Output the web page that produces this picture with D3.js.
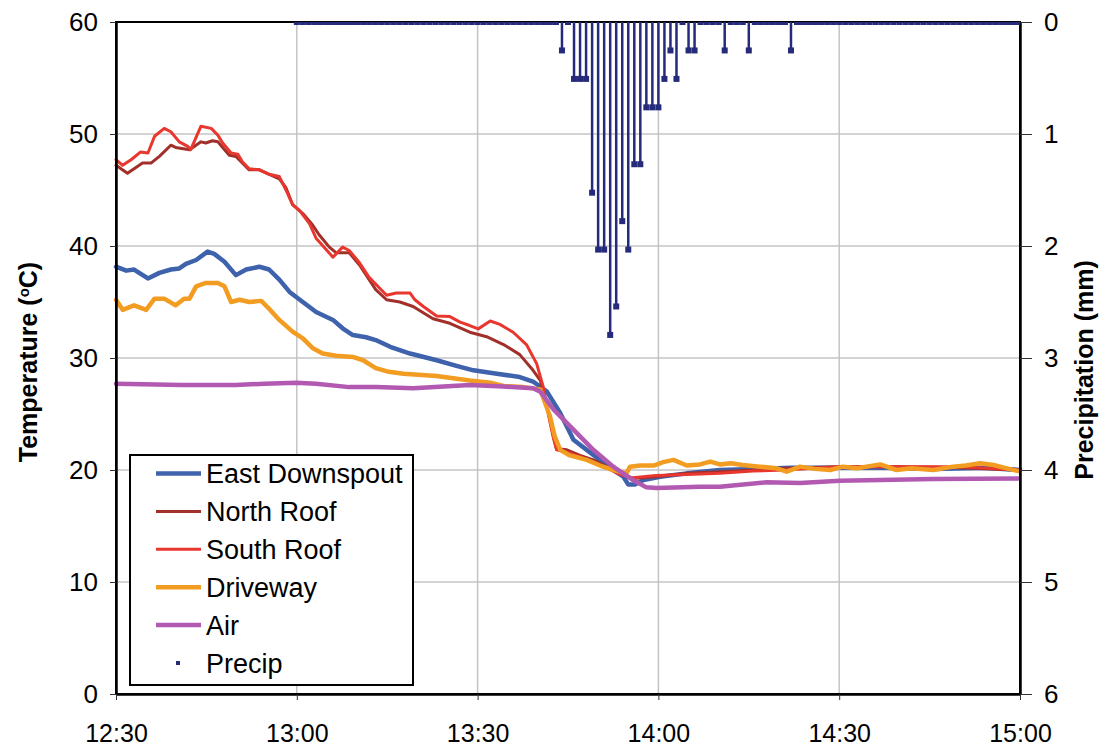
<!DOCTYPE html>
<html>
<head>
<meta charset="utf-8">
<script src="https://cdn.jsdelivr.net/npm/d3@7"></script>
<style>
  body { margin: 0; background: #fff; }
  svg { display: block; }
  text { font-family: "Liberation Sans", Arial, Helvetica, sans-serif; fill: #000; }
</style>
</head>
<body>
<svg id="chart" width="1102" height="749"></svg>
<script>
// ---- data -------------------------------------------------------------
// Temperature series: [minutes after 12:30, °C]
const eastDownspout = [
  [0,38.15],[1.7,37.8],[3,37.9],[5.3,37.1],[7.2,37.6],[9.1,37.9],[10.5,38.0],[11.6,38.4],
  [13.3,38.75],[15.2,39.5],[16.3,39.3],[18,38.6],[19.9,37.4],[21.6,37.9],[23.8,38.15],
  [25.4,37.9],[27.1,37.0],[28.8,35.9],[31,35.0],[33.2,34.1],[36,33.4],[37.6,32.65],
  [39.3,32.05],[41.5,31.85],[43.1,31.6],[45.5,31.0],[48.8,30.4],[53.2,29.8],[56.5,29.3],
  [59.3,28.9],[63.2,28.6],[67,28.3],[69.2,27.9],[71.5,27.0],[73.7,25.1],[75.9,22.7],
  [78.1,21.8],[80.3,20.9],[82.5,20.0],[84.2,19.4],[85,18.7],[86.1,18.7],[87.5,19.1],
  [90.3,19.4],[94.7,19.7],[100.2,20.0],[106,20.1],[112,20.2],[120,20.2],[128,20.2],
  [136,20.1],[144,20.2],[150,20.0]
];
const northRoof = [
  [0,47.2],[1.9,46.5],[3,46.9],[4.4,47.4],[5.8,47.4],[7.2,48.0],[9.1,49.0],[9.9,48.8],
  [12.2,48.6],[14.1,49.3],[14.9,49.2],[16,49.4],[16.9,49.3],[18.8,48.1],[19.9,48.0],
  [22.1,46.8],[23.8,46.8],[27.1,46.0],[28.2,45.2],[29.3,43.7],[31,42.9],[32.6,41.9],
  [33.7,41.0],[35.4,39.9],[36.5,39.4],[38.7,39.4],[40.4,38.3],[43.1,36.1],[44.9,35.2],
  [47.1,35.0],[49.3,34.6],[52.6,33.5],[55.4,33.1],[58.7,32.3],[61.5,31.9],[64.3,31.2],
  [67,30.3],[69.2,28.9],[70.4,28.0],[71.8,25.0],[72.6,23.0],[73.1,21.9],[74.8,21.8],
  [77,21.3],[79.2,20.9],[81.4,20.3],[83.6,19.7],[85.8,19.25],[89.6,19.4],[94.7,19.7],
  [100.2,19.85],[105.7,20.0],[111,20.15],[120,20.3],[130,20.3],[140,20.2],[150,20.0]
];
const southRoof = [
  [0,47.7],[1.1,47.2],[2.5,47.7],[4.1,48.4],[5.3,48.3],[6.4,49.8],[8,50.5],[9.1,50.2],
  [10.5,49.3],[11.9,48.9],[12.4,48.6],[14.1,50.7],[15.8,50.5],[16.9,49.9],[17.7,49.2],
  [19.1,48.3],[20.2,48.2],[21,47.5],[22.1,46.9],[23.8,46.8],[25.4,46.4],[27.1,46.2],
  [28.2,45.0],[29.3,43.7],[30.4,43.2],[32.1,42.0],[33.2,40.7],[36,39.0],[37.6,39.9],
  [38.7,39.6],[40.4,38.5],[42,37.2],[43.8,36.2],[44.9,35.6],[46.5,35.8],[48.8,35.8],
  [49.6,35.2],[51,34.6],[53.2,33.75],[55.4,33.7],[57.1,33.2],[58.7,32.9],[60.1,32.6],
  [62.1,33.3],[63.7,33.0],[65.9,32.3],[68.1,31.2],[69.8,29.5],[70.9,27.4],[71.8,24.8],
  [72.6,22.8],[73.1,21.8],[74.8,21.6],[77,21.2],[79.2,20.7],[81.4,20.2],[83.6,19.6],
  [85.8,19.3],[89.6,19.5],[94.7,19.6],[100.2,19.7],[105.7,19.9],[111,20.0],[120,20.3],
  [130,20.3],[140,20.3],[150,20.0]
];
const driveway = [
  [0,35.2],[1.1,34.3],[3,34.7],[5,34.3],[6.4,35.3],[8,35.3],[9.9,34.7],[11.3,35.3],
  [12.2,35.3],[13.3,36.4],[14.9,36.7],[16.9,36.7],[18,36.4],[19.1,35.0],[20.5,35.2],
  [22.1,35.0],[24.1,35.1],[25.4,34.4],[27.1,33.4],[29.3,32.35],[31,31.75],[32.6,30.9],
  [34.3,30.4],[36.5,30.2],[39.3,30.1],[41,29.8],[43.1,29.1],[45,28.8],[47.7,28.6],
  [53.2,28.4],[58.7,28.0],[62.1,27.8],[64.3,27.5],[67.6,27.4],[70.4,27.2],[71.2,26.0],
  [72,24.8],[72.8,23.0],[73.7,21.8],[75.3,21.3],[78.1,20.9],[80.3,20.4],[82.5,20.0],
  [84.7,19.7],[85.3,20.3],[87,20.4],[89.2,20.4],[90.8,20.7],[92.5,20.9],[94.7,20.4],
  [96.9,20.5],[98.6,20.75],[100.2,20.5],[102,20.6],[104,20.45],[106.8,20.3],[109.6,20.15],
  [111.3,19.85],[113.5,20.3],[116,20.1],[118.5,20.0],[120.6,20.3],[123,20.15],[126.8,20.5],
  [129.5,20.0],[132,20.15],[135.6,20.0],[138.9,20.3],[141,20.4],[143.4,20.6],[145.6,20.45],
  [147.8,20.15],[149.7,19.9]
];
const air = [
  [0,27.7],[11,27.6],[19.9,27.6],[24.6,27.7],[29.9,27.8],[33.2,27.7],[38.7,27.4],
  [43.1,27.4],[49.3,27.3],[58.7,27.6],[64.3,27.45],[69.2,27.3],[70.4,27.0],[72.6,25.4],
  [75.9,23.6],[79.2,21.8],[82.5,20.3],[85.8,19.1],[88,18.45],[89.7,18.4],[96.9,18.5],
  [100.2,18.5],[108,18.9],[113.5,18.85],[120.1,19.05],[135.6,19.2],[149.7,19.25]
];

// Precipitation (mm) per minute, 13:00 through 15:00
const precipStart = "13:00";
const precipValues = [
  0,0,0,0,0,0,0,0,0,0,
  0,0,0,0,0,0,0,0,0,0,
  0,0,0,0,0,0,0,0,0,0,
  0,0,0,0,0,0,0,0,0,0,
  0,0,0,0,0.254,0,0.508,0.508,0.508,1.524,
  2.032,2.032,2.794,2.54,1.778,2.032,1.27,1.27,0.762,0.762,
  0.762,0.508,0.254,0.508,0,0.254,0.254,0,0,0,
  0,0.254,0,0,0,0.254,0,0,0,0,
  0,0,0.254,0,0,0,0,0,0,0,
  0,0,0,0,0,0,0,0,0,0,
  0,0,0,0,0,0,0,0,0,0,
  0,0,0,0,0,0,0,0,0,0,
  0
];

const seriesNames = ["East Downspout", "North Roof", "South Roof", "Driveway", "Air"];
const seriesColors = ["#3f62ad", "#a2302a", "#e8372e", "#f29c22", "#b259b2"];
const seriesWidths = [4.5, 3, 3, 4.5, 4.5];
const seriesData = [eastDownspout, northRoof, southRoof, driveway, air];
const precipName = "Precip";
const precipColor = "#262a7a";

const timeTicks = ["12:30", "13:00", "13:30", "14:00", "14:30", "15:00"];
const tempTicks = [0, 10, 20, 30, 40, 50, 60];
const precipTicks = [0, 1, 2, 3, 4, 5, 6];

// ---- scales -------------------------------------------------------------
const parseTime = d3.timeParse("%H:%M");
const t0 = parseTime(timeTicks[0]);
const atMinute = m => new Date(t0.getTime() + m * 60000);

const plot = { left: 116, right: 1020, top: 22, bottom: 694 };

const x = d3.scaleTime()
  .domain([t0, parseTime(timeTicks[timeTicks.length - 1])])
  .range([plot.left, plot.right]);
const yTemp = d3.scaleLinear().domain([0, 60]).range([plot.bottom, plot.top]);
const yPrecip = d3.scaleLinear().domain([0, 6]).range([plot.top, plot.bottom]);

const svg = d3.select("#chart");

svg.append("defs").append("clipPath").attr("id", "plot-clip")
  .append("rect")
  .attr("x", plot.left).attr("y", plot.top)
  .attr("width", plot.right - plot.left).attr("height", plot.bottom - plot.top);

// ---- gridlines ----------------------------------------------------------
const grid = svg.append("g").attr("stroke", "#c4c4c4").attr("stroke-width", 1.5);
grid.selectAll("line.h").data(tempTicks.slice(1, -1)).join("line")
  .attr("x1", plot.left).attr("x2", plot.right)
  .attr("y1", d => yTemp(d)).attr("y2", d => yTemp(d));
grid.selectAll("line.v").data(timeTicks.slice(1, -1).map(parseTime)).join("line")
  .attr("y1", plot.top).attr("y2", plot.bottom)
  .attr("x1", d => x(d)).attr("x2", d => x(d));

// ---- temperature lines --------------------------------------------------
const line = d3.line()
  .x(d => x(atMinute(d[0])))
  .y(d => yTemp(d[1]));

svg.append("g").selectAll("path").data(seriesData).join("path")
  .attr("fill", "none")
  .attr("stroke", (d, i) => seriesColors[i])
  .attr("stroke-width", (d, i) => seriesWidths[i])
  .attr("stroke-linejoin", "round")
  .attr("stroke-linecap", "round")
  .attr("d", line);

// ---- frame and axes -----------------------------------------------------
svg.append("rect")
  .attr("x", plot.left).attr("y", plot.top)
  .attr("width", plot.right - plot.left).attr("height", plot.bottom - plot.top)
  .attr("fill", "none").attr("stroke", "#000").attr("stroke-width", 2);

const styleAxis = size => g => {
  g.select(".domain").attr("stroke", "#000").attr("stroke-width", 2.5);
  g.selectAll(".tick line").attr("stroke", "#333").attr("stroke-width", 1);
  g.selectAll(".tick text").attr("font-family", null).style("font-size", size + "px").attr("fill", "#000");
};

svg.append("g")
  .attr("transform", `translate(${plot.left},0)`)
  .call(d3.axisLeft(yTemp).tickValues(tempTicks).tickSize(6).tickSizeOuter(0).tickPadding(12))
  .call(styleAxis(26));

svg.append("g")
  .attr("transform", `translate(${plot.right},0)`)
  .call(d3.axisRight(yPrecip).tickValues(precipTicks).tickFormat(d3.format("d"))
    .tickSize(12).tickSizeOuter(0).tickPadding(12))
  .call(styleAxis(26));

svg.append("g")
  .attr("transform", `translate(0,${plot.bottom})`)
  .call(d3.axisBottom(x).tickValues(timeTicks.map(parseTime))
    .tickFormat(d3.timeFormat("%H:%M")).tickSize(6).tickSizeOuter(0).tickPadding(24))
  .call(styleAxis(25));

// ---- precipitation (secondary axis) -------------------------------------
const pStart = parseTime(precipStart);
const precip = precipValues.map((v, i) => ({ t: new Date(pStart.getTime() + i * 60000), v }));

const pg = svg.append("g").attr("clip-path", "url(#plot-clip)");
pg.selectAll("line").data(precip.filter(d => d.v > 0)).join("line")
  .attr("x1", d => x(d.t)).attr("x2", d => x(d.t))
  .attr("y1", yPrecip(0)).attr("y2", d => yPrecip(d.v))
  .attr("stroke", precipColor).attr("stroke-width", 2.5);
pg.selectAll("rect").data(precip).join("rect")
  .attr("x", d => x(d.t) - 3).attr("y", d => yPrecip(d.v) - 3)
  .attr("width", 6).attr("height", 6)
  .attr("fill", precipColor);

// ---- axis titles --------------------------------------------------------
const tempTitle = svg.append("text")
  .attr("transform", "translate(37,362) rotate(-90)")
  .attr("text-anchor", "middle")
  .style("font-size", "25px").style("font-weight", "bold");
tempTitle.append("tspan").text("Temperature (");
tempTitle.append("tspan").attr("baseline-shift", "super").style("font-size", "15px").text("o");
tempTitle.append("tspan").text("C)");

svg.append("text")
  .attr("transform", "translate(1093,370) rotate(-90)")
  .attr("text-anchor", "middle")
  .style("font-size", "25px").style("font-weight", "bold")
  .text("Precipitation (mm)");

// ---- legend -------------------------------------------------------------
const legend = svg.append("g");
legend.append("rect")
  .attr("x", 130).attr("y", 455).attr("width", 283).attr("height", 230)
  .attr("fill", "#fff").attr("stroke", "#000").attr("stroke-width", 2);

const rowY = i => 473.5 + i * 37.9;
const items = legend.selectAll("g.item").data(seriesNames).join("g").attr("class", "item");
items.append("line")
  .attr("x1", 156).attr("x2", 201)
  .attr("y1", (d, i) => rowY(i)).attr("y2", (d, i) => rowY(i))
  .attr("stroke", (d, i) => seriesColors[i])
  .attr("stroke-width", (d, i) => seriesWidths[i]);
items.append("text")
  .attr("x", 206).attr("y", (d, i) => rowY(i))
  .attr("dy", "0.36em")
  .style("font-size", "27px")
  .text(d => d);

legend.append("rect")
  .attr("x", 176).attr("y", rowY(5) - 2).attr("width", 4).attr("height", 4)
  .attr("fill", precipColor);
legend.append("text")
  .attr("x", 206).attr("y", rowY(5)).attr("dy", "0.36em")
  .style("font-size", "27px")
  .text(precipName);
</script>
</body>
</html>
